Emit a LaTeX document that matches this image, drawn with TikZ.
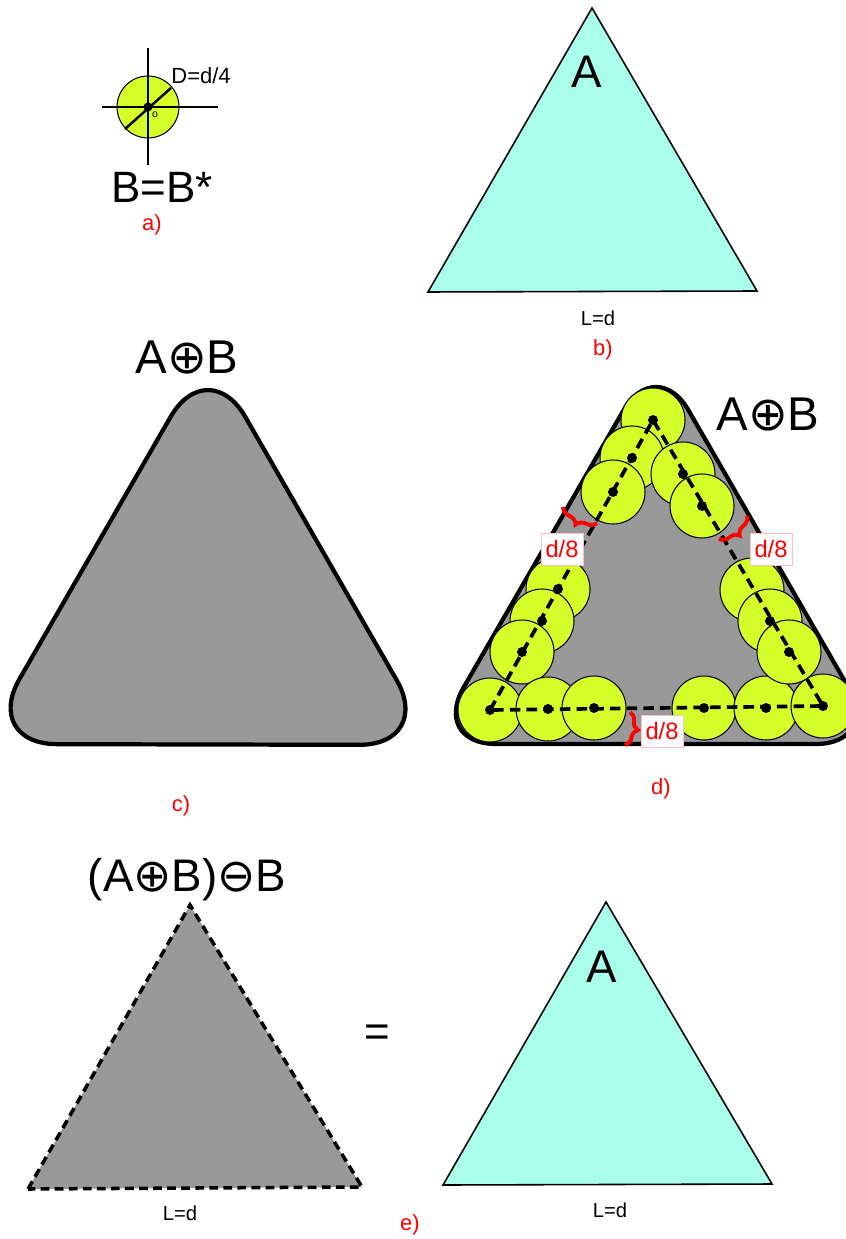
\documentclass[tikz,border=0pt]{standalone}
\usepackage{fontspec}
\setmainfont{Liberation Sans}
\newfontfamily\opfont{DejaVu Sans}
\usetikzlibrary{decorations.pathreplacing}
\definecolor{ballgreen}{RGB}{212,255,42}
\definecolor{aqua}{RGB}{170,255,236}
\definecolor{shade}{RGB}{153,153,153}

\begin{document}
\begin{tikzpicture}[x=0.02cm, y=-0.02cm,
    tri/.style={draw, line width=0.9pt, fill=aqua},
    blob/.style={draw, line width=2.4pt, fill=shade, rounded corners=#1},
    ball/.style={draw, line width=0.6pt, fill=ballgreen},
    axis/.style={line width=2.1pt, dash pattern=on 6pt off 3.5pt},
    sublabel/.style={red, font=\fontsize{12.5}{12.5}\selectfont},
    small/.style={font=\fontsize{11.5}{11.5}\selectfont},
    bigtxt/.style={font=\fontsize{#1}{#1}\selectfont},
    gap/.style={decorate, decoration={brace, amplitude=6pt}, red, line width=2.2pt},
    gaplabel/.style={fill=white, draw=red!25, line width=0.4pt, text=red,
                     font=\fontsize{13.5}{13.5}\selectfont, minimum width=0.84cm,
                     minimum height=0.64cm, inner sep=1pt}]
  \useasboundingbox (0,0) rectangle (845,1239);

  %% a) structuring element
  \coordinate (o) at (148,107);
  \filldraw[ball] (o) circle[radius=0.62cm];
  \draw[line width=0.6pt] (148,48) -- (148,165);
  \draw[line width=0.6pt] (102,107) -- (218,107);
  \draw[line width=1.4pt] (125,129) -- (171,88);
  \fill (o) circle[radius=0.09cm];
  \node[font=\fontsize{6}{6}\selectfont] (olab) at (155,115) {o};
  \node[font=\fontsize{12.5}{12.5}\selectfont] (diam) at (201,76) {D=d/4};
  \node[bigtxt=25] (bb) at (162,187) {B=B*};
  \node[sublabel] (suba) at (152,225) {a)};

  %% b) triangle A
  \filldraw[tri] (428,292) -- (592,8) -- (757,291) -- cycle;
  \node[bigtxt=26] (ab) at (587,72) {A};
  \node[small] (lb) at (598,318) {L=d};
  \node[sublabel] (subb) at (603,350) {b)};

  %% c) dilation
  \node[bigtxt=27] (dil) at (187,358) {A{\opfont ⊕}B};
  \filldraw[blob=1.5cm] (208,352) -- (434,745) -- (-18,744) -- cycle;
  \node[sublabel] (subc) at (181,806) {c)};

  %% d) dilation built from discs
  \filldraw[blob=1.3cm] (656,354) -- (881,744) -- (431,744) -- cycle;
  \foreach \n/\x/\y in {t1/653/420, t2/632/458, t3/613/492,
                        l1/558/589, l2/542/621, l3/522/652,
                        b1/490/710, b2/548/709, b3/594/708,
                        b4/704/708, b5/766/708, b6/823/706,
                        r1/683/474, r2/702/506,
                        r3/752/590, r4/770/621, r5/789/652}{
    \coordinate (\n) at (\x,\y);
    \filldraw[ball] (\n) circle[radius=0.64cm];
  }
  \draw[axis] (b1) -- (t1) -- (b6) -- (b1);
  \foreach \n in {t1,t2,t3,l1,l2,l3,b1,b2,b3,b4,b5,b6,r1,r2,r4,r5}
    \fill (\n) circle[radius=0.1cm];
  \node[bigtxt=27] (dil2) at (768,415) {A{\opfont ⊕}B};
  %% gaps d/8
  \draw[gap] (597,523) -- (563,507);
  \node[gaplabel] (g1) at (562,549) {d/8};
  \draw[gap] (747,516) -- (719,539);
  \node[gaplabel] (g2) at (771,549) {d/8};
  \draw[gap] (630,712) -- (625,745);
  \node[gaplabel] (g3) at (662,731) {d/8};
  \node[sublabel] (subd) at (661,789) {d)};

  %% e) closing
  \node[bigtxt=26] (clo) at (187,880)
    {(A{\opfont ⊕}B){\opfont ⊖}B};
  \filldraw[fill=shade, line width=2pt, dash pattern=on 5pt off 3pt]
    (28,1189) -- (190,905) -- (362,1187) -- cycle;
  \node[small] (le) at (180,1213) {L=d};
  \node[bigtxt=25] (eq) at (377,1036) {=};
  \filldraw[tri] (443,1185) -- (606,902) -- (772,1184) -- cycle;
  \node[bigtxt=26] (ae) at (602,967) {A};
  \node[small] (lr) at (610,1210) {L=d};
  \node[sublabel] (sube) at (410,1225) {e)};
\end{tikzpicture}
\end{document}
